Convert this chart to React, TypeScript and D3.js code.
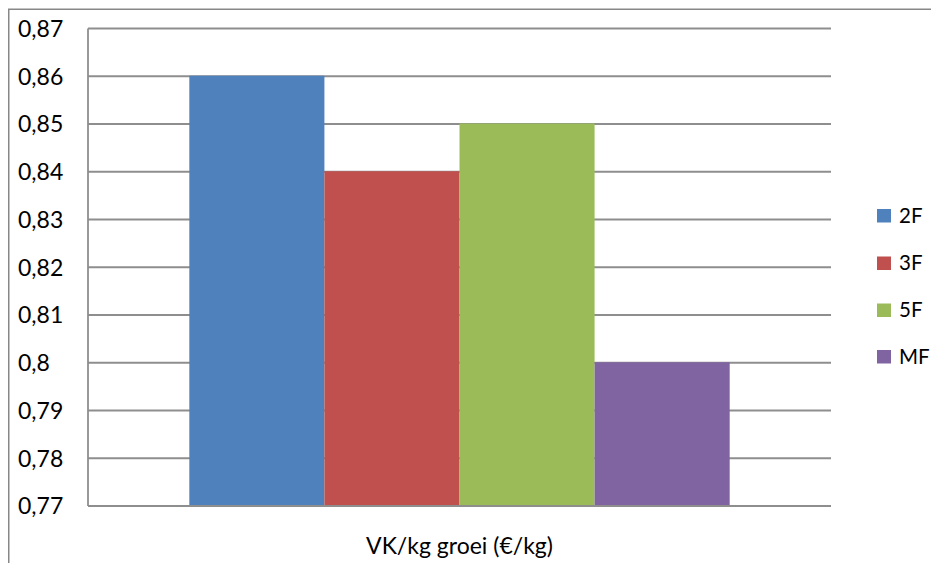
import React from "react";
import * as d3 from "d3";

// Cost per kg of growth, one category, four feeding schemes
const categories = ["VK/kg groei (€/kg)"];
const seriesNames = ["2F", "3F", "5F", "MF"];
const seriesValues = [0.86, 0.84, 0.85, 0.8];
const seriesColors = ["#4F81BD", "#C0504D", "#9BBB59", "#8064A2"];
const yTicks = [0.77, 0.78, 0.79, 0.8, 0.81, 0.82, 0.83, 0.84, 0.85, 0.86, 0.87];
const yDomain: [number, number] = [0.77, 0.87];

const W = 931;
const H = 555;
const plot = { left: 80, right: 823, top: 20.5, bottom: 498 };
const FONT = "Lato, 'Open Sans', sans-serif";

const fmt = (v: number) => {
  const s = d3.format(".2~f")(v);
  return s.replace(".", ",");
};

export default function App() {
  const y = d3.scaleLinear().domain(yDomain).range([plot.bottom, plot.top]);
  // Excel-style clustered bars: gap width 150% of a single bar
  const x0 = d3
    .scaleBand<string>()
    .domain(categories)
    .range([plot.left, plot.right])
    .paddingInner(0)
    .paddingOuter(0.1875);
  const x1 = d3
    .scaleBand<string>()
    .domain(seriesNames)
    .range([0, x0.bandwidth()])
    .padding(0);

  const legendY = [207.5, 255, 302, 348.5];

  return (
    <svg width={W} height={H} style={{ display: "block", overflow: "hidden" }}>
      <rect x={0} y={0} width={W} height={H} fill="#fff" />
      {/* outer chart frame */}
      <rect
        x={0.75}
        y={1.25}
        width={W + 10}
        height={H + 10}
        fill="none"
        stroke="#878787"
        strokeWidth={1.5}
      />
      {/* gridlines */}
      {yTicks.map((t) => (
        <line
          key={t}
          x1={plot.left}
          x2={plot.right}
          y1={y(t)}
          y2={y(t)}
          stroke="#8e8e8e"
          strokeWidth={1.8}
        />
      ))}
      {/* bars */}
      {categories.map((c) => (
        <g key={c} transform={`translate(${x0(c)},0)`}>
          {seriesNames.map((s, i) => (
            <rect
              key={s}
              x={x1(s)}
              y={y(seriesValues[i]) - 0.5}
              width={x1.bandwidth()}
              height={plot.bottom - y(seriesValues[i]) + 0.5}
              fill={seriesColors[i]}
            />
          ))}
        </g>
      ))}
      {/* value axis line and category axis line */}
      <line
        x1={plot.left}
        x2={plot.left}
        y1={plot.top}
        y2={plot.bottom}
        stroke="#8e8e8e"
        strokeWidth={1.8}
      />
      <line
        x1={plot.left}
        x2={plot.right}
        y1={plot.bottom}
        y2={plot.bottom}
        stroke="#8e8e8e"
        strokeWidth={1.8}
      />
      {/* y tick labels */}
      {yTicks.map((t) => (
        <text
          key={"l" + t}
          x={10}
          y={y(t)}
          dy="0.36em"
          fontFamily={FONT}
          fontSize={23}
          fill="#000"
        >
          {fmt(t)}
        </text>
      ))}
      {/* category label */}
      {categories.map((c) => (
        <text
          key={"c" + c}
          x={(plot.left + plot.right) / 2}
          y={546}
          textAnchor="middle"
          fontFamily={FONT}
          fontSize={23}
          fill="#000"
        >
          {c}
        </text>
      ))}
      {/* legend */}
      {seriesNames.map((s, i) => (
        <g key={"lg" + s}>
          <rect x={869} y={legendY[i] - 6.5} width={14} height={13.5} fill={seriesColors[i]} />
          <text
            x={891}
            y={legendY[i]}
            dy="0.36em"
            fontFamily={FONT}
            fontSize={20.5}
            fill="#000"
          >
            {s}
          </text>
        </g>
      ))}
    </svg>
  );
}
